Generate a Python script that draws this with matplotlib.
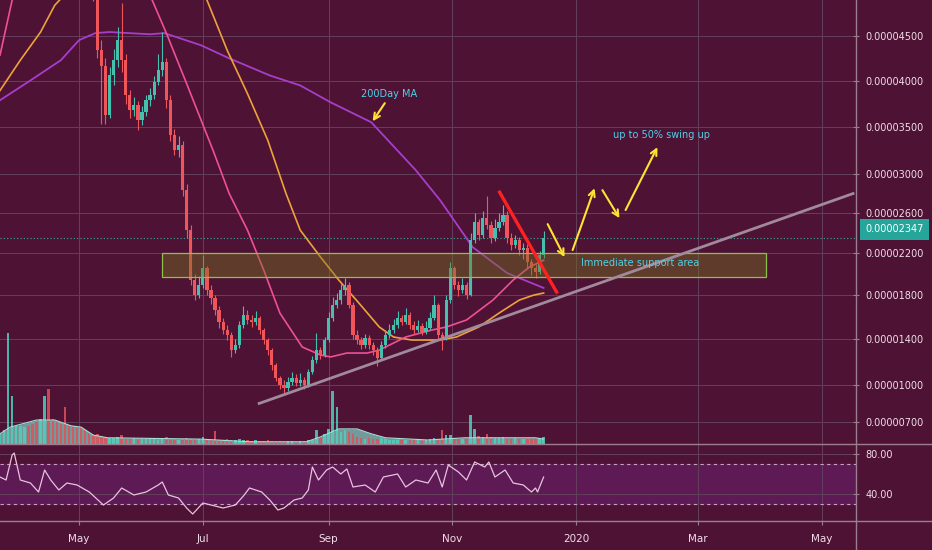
import numpy as np
import pandas as pd
import matplotlib
matplotlib.use('Agg')
import matplotlib.pyplot as plt
import matplotlib.dates as mdates
from matplotlib.lines import Line2D
from matplotlib.patches import Rectangle
from matplotlib.ticker import FixedLocator, FuncFormatter

plt.rcParams['font.family'] = ['DejaVu Sans']

# prices in units of 1e-8 (2-day candles starting 2019-03-23)
closes = [5300, 5350, 5400, 5450, 5500, 5600, 5650, 5550, 5500, 5450, 5600, 5700, 5650, 5550, 5500, 5450,
          5400, 5300, 5250, 5200, 5150, 5100, 5050, 5000,
          4340, 4170, 3625, 4060, 4229, 4454, 4229, 3840, 3680, 3734, 3571, 3660, 3788, 3840, 3985, 4118,
          4207, 3788, 3410, 3252, 3305, 2835, 2430, 1943, 1800, 1895, 2058, 1849, 1773, 1661, 1552, 1479,
          1434, 1300, 1343, 1525, 1615, 1570, 1552, 1588, 1479, 1389, 1300, 1170, 1059, 1000, 975, 1025,
          1059, 1017, 1042, 1000, 1110, 1213, 1300, 1257, 1389, 1588, 1707, 1754, 1849, 1895, 1707, 1434,
          1389, 1343, 1407, 1343, 1300, 1230, 1343, 1434, 1479, 1525, 1588, 1552, 1615, 1525, 1479, 1515,
          1461, 1497, 1588, 1707, 1434, 1407, 1754, 2058, 1895, 1849, 1895, 1800, 2331, 2510, 2380, 2550,
          2480, 2350, 2450, 2510, 2580, 2350, 2282, 2331, 2233, 2253, 2115, 2058, 2020, 2183, 2347]
highs = [5400, 5450, 5500, 5550, 5600, 5700, 5750, 5700, 5600, 5550, 5700, 5800, 5750, 5700, 5600, 5550,
         5500, 5450, 5350, 5300, 5250, 5200, 5150, 5100,
         5100, 4450, 4250, 4150, 4350, 4600, 4880, 4300, 3900, 3820, 3780, 3720, 3850, 3920, 4050, 4300,
         4545, 4250, 3850, 3480, 3400, 3350, 2900, 2480, 2000, 1980, 2180, 2080, 1900, 1800, 1700, 1590,
         1520, 1460, 1400, 1560, 1700, 1660, 1620, 1650, 1610, 1500, 1410, 1320, 1190, 1080, 1040, 1070,
         1110, 1090, 1100, 1070, 1140, 1250, 1450, 1330, 1420, 1640, 1780, 1820, 1910, 1960, 1920, 1740,
         1480, 1420, 1440, 1430, 1370, 1330, 1380, 1480, 1530, 1580, 1650, 1620, 1680, 1640, 1560, 1570,
         1540, 1560, 1640, 1800, 1730, 1460, 1800, 2120, 2080, 1930, 1960, 1920, 2400, 2600, 2540, 2620,
         2780, 2520, 2540, 2600, 2680, 2620, 2400, 2380, 2360, 2300, 2290, 2150, 2100, 2220, 2420]
lows = [5200, 5250, 5300, 5350, 5400, 5450, 5500, 5450, 5400, 5350, 5400, 5550, 5550, 5450, 5400, 5350,
        5300, 5200, 5150, 5100, 5050, 5000, 4950, 4900,
        4250, 3530, 3530, 3600, 3950, 4150, 4100, 3750, 3600, 3620, 3470, 3520, 3620, 3720, 3800, 3950,
        4050, 3700, 3350, 3200, 3180, 2780, 2350, 1900, 1750, 1770, 1870, 1800, 1720, 1620, 1500, 1440,
        1390, 1240, 1270, 1320, 1500, 1530, 1510, 1520, 1440, 1350, 1260, 1130, 1030, 970, 930, 950,
        1000, 990, 995, 965, 985, 1090, 1190, 1220, 1240, 1370, 1560, 1680, 1720, 1800, 1680, 1400,
        1350, 1310, 1320, 1310, 1260, 1160, 1210, 1320, 1410, 1450, 1500, 1520, 1530, 1490, 1440, 1460,
        1430, 1440, 1480, 1570, 1400, 1300, 1390, 1730, 1860, 1790, 1820, 1760, 1790, 2300, 2330, 2350,
        2440, 2300, 2320, 2420, 2480, 2300, 2230, 2250, 2180, 2150, 2050, 1990, 1960, 2000, 2160]
volumes = [23, 32, 249, 108, 41, 41, 38, 41, 45, 50, 56, 108, 124, 56, 50, 45, 84, 41, 41, 38, 36, 32, 25, 20,
           23, 18, 16, 14, 13, 15, 20, 12, 11, 13, 10, 12, 11, 14, 12, 10, 13, 16, 12, 11, 10, 12, 14, 11,
           10, 12, 15, 11, 10, 29,
           10, 9, 11, 8, 10, 12, 9, 8, 7, 8, 6, 7, 8, 6, 5, 6, 5, 6, 7, 5, 6, 7, 8, 10,
           32, 14, 23, 34, 120, 84, 27, 32, 27, 23,
           16, 14, 12, 13, 11, 12, 14, 11, 10, 9, 10, 12, 9, 8, 10, 9, 8, 9, 11, 13, 10, 32,
           20, 20, 14, 12, 11, 12, 66, 34, 18, 16, 23, 15, 13, 14, 16, 14, 12, 13, 11, 12, 13, 11, 12, 14, 16]

vol_ma_days = [0, 5, 18, 27, 35, 40, 46, 53, 99, 123, 151, 158, 167, 176, 183, 190, 211, 229, 264, 268]
vol_ma = [23, 38, 54, 54, 41, 38, 20, 14, 11, 5, 5, 16, 34, 34, 23, 14, 9, 14, 14, 11]

ma200_days = [0, 15, 30, 39, 47, 54, 74, 81, 99, 113, 133, 148, 163, 183, 205, 217, 233, 250, 268]
ma200 = [3788, 4005, 4229, 4454, 4533, 4545, 4520, 4533, 4397, 4250, 4060, 3950, 3765, 3550, 3041, 2731,
         2262, 2010, 1868]
ma50_days = [0, 6, 20, 40, 60, 75, 82, 92, 105, 113, 122, 130, 138, 149, 158, 163, 171, 181, 187, 200,
             213, 220, 230, 243, 253, 261, 268]
ma50 = [4285, 4910, 5400, 5600, 5400, 4910, 4533, 3970, 3252, 2800, 2430, 2039, 1633, 1327, 1257, 1240,
        1274, 1274, 1300, 1416, 1479, 1506, 1570, 1754, 1943, 2068, 2134]
ma100_days = [0, 10, 20, 27, 45, 70, 90, 102, 112, 122, 132, 141, 148, 158, 167, 177, 187, 194, 203, 217,
              225, 236, 246, 256, 263, 268]
ma100 = [3894, 4229, 4545, 4850, 5300, 5400, 5200, 4910, 4340, 3860, 3357, 2800, 2430, 2165, 1943, 1725,
         1506, 1416, 1389, 1389, 1416, 1506, 1633, 1754, 1800, 1820]

rsi_days = [0, 3, 6, 7, 10, 15, 19, 22, 25, 29, 33, 38, 44, 51, 56, 60, 66, 72, 78, 80, 83, 88, 92, 95,
            100, 104, 110, 116, 120, 123, 129, 133, 137, 140, 145, 149, 152, 154, 157, 161, 164, 168, 171,
            174, 180, 185, 189, 196, 200, 205, 211, 215, 218, 221, 226, 230, 234, 239, 241, 244, 249, 253,
            258, 262, 264, 265, 268]
rsi = [57, 54, 79, 81, 54, 51, 42, 64, 54, 44, 51, 49, 42, 29, 36, 46, 39, 42, 49, 52, 39, 36, 26, 20,
       31, 29, 26, 29, 38, 46, 42, 34, 24, 26, 34, 36, 44, 67, 54, 64, 67, 60, 65, 47, 49, 42, 57, 60,
       47, 54, 51, 64, 47, 69, 62, 54, 72, 67, 72, 57, 64, 51, 49, 42, 46, 42, 57]

price_ticks = [4500, 4000, 3500, 3000, 2600, 2200, 1800, 1400, 1000, 700]
last_price = 2347
month_ticks = ['2019-05-01', '2019-07-01', '2019-09-01', '2019-11-01', '2020-01-01', '2020-03-01', '2020-05-01']
month_labels = ['May', 'Jul', 'Sep', 'Nov', '2020', 'Mar', 'May']

BG = '#4e1334'
BAND = '#5d1a55'
GRID = '#64405c'
SEP = '#9c7d90'
TXT = '#f2dde9'
UP = '#45bfae'
DOWN = '#f0555a'
CYAN = '#4dd2e6'
YEL = '#ffe234'

start = pd.Timestamp('2019-03-23')


def dnum(d):
    return mdates.date2num(start + pd.to_timedelta(np.asarray(d, dtype=float), unit='D'))


def px(v):
    return np.asarray(v, dtype=float) * 1e-8


def fwd(v):
    return np.power(np.clip(np.asarray(v, dtype=float), 1e-12, None) * 1e8, 0.8)


def inv(u):
    return np.power(np.clip(np.asarray(u, dtype=float), 1e-12, None), 1.25) / 1e8


c = px(closes)
o = np.concatenate([[c[0]], c[:-1]])
h = px(highs)
l = px(lows)
t = mdates.date2num(pd.date_range('2019-03-23', periods=len(closes), freq='2D'))
up = c >= o

fig = plt.figure(figsize=(9.32, 5.5), dpi=100, facecolor=BG)
ax = fig.add_axes([0, 106 / 550, 856 / 932, 444 / 550], facecolor=BG)
axr = fig.add_axes([0, 29 / 550, 856 / 932, 77 / 550], facecolor=BG, sharex=ax)
axv = ax.twinx()  # volume overlay (twinx moves ax ticks left, so set ticks after this)

ax.set_yscale('function', functions=(fwd, inv))
ax.set_ylim(px(535), px(4910))
ax.set_xlim(dnum(0), dnum(422))

mt = mdates.date2num(pd.to_datetime(month_ticks))
ax.set_xticks(mt)
ax.yaxis.set_major_locator(FixedLocator(px(price_ticks)))
ax.yaxis.set_major_formatter(FuncFormatter(lambda v, p: f'{v:.8f}'))
ax.yaxis.set_minor_locator(FixedLocator([]))
ax.grid(True, color=GRID, lw=0.7)
ax.set_axisbelow(True)
ax.yaxis.tick_right()
ax.yaxis.set_label_position('right')
ax.tick_params(axis='y', colors=SEP, labelcolor=TXT, labelsize=7, direction='inout', length=4, pad=5)
ax.tick_params(axis='x', length=0, labelbottom=False)
for s in ax.spines.values():
    s.set_visible(False)

# moving averages
ax.plot(dnum(ma200_days), px(ma200), color='#a83dcc', lw=1.3, zorder=3)
ax.plot(dnum(ma100_days), px(ma100), color='#eea23a', lw=1.2, zorder=3)
ax.plot(dnum(ma50_days), px(ma50), color='#f04f96', lw=1.2, zorder=3)

# candles
cols = np.where(up, UP, DOWN)
ax.vlines(t, l, h, colors=cols, lw=0.8, zorder=4)
ax.bar(t, np.maximum(np.abs(c - o), px(6)), bottom=np.minimum(o, c), width=1.6, color=cols, zorder=4)

# current price line
ax.axhline(px(last_price), color='#3aa89a', lw=0.8, ls=(0, (1, 2)), zorder=2)
ax.annotate(f'{px(last_price):.8f}', xy=(1, px(last_price)), xycoords=('axes fraction', 'data'),
            xytext=(6.5, 6.5), textcoords='offset points', va='center', ha='left', color='white',
            fontsize=7, annotation_clip=False,
            bbox=dict(boxstyle='square,pad=0.55', fc='#26a69a', ec='none'))

# support zone
x0, x1 = dnum(79.8), dnum(377.8)
ax.add_patch(Rectangle((x0, px(1972)), x1 - x0, px(2205 - 1972), fc=(0.47, 0.45, 0.12, 0.42),
                       ec='#8bc34a', lw=0.9, zorder=5))
ax.text(dnum(315.8), px(2105), 'Immediate support area', color=CYAN, fontsize=7, ha='center', va='center', zorder=7)

# trend lines
ax.plot(dnum([127.1, 421.2]), px([845, 2805]), color='#a08a9c', lw=2, zorder=6, solid_capstyle='butt')
ax.plot(dnum([246.3, 274.4]), px([2814, 1829]), color='#ff2020', lw=2.4, zorder=6)

# projected path arrows
arrows = [((270.0, 2490), (278.3, 2164)), ((282.3, 2233), (293.1, 2855)),
          ((297.0, 2835), (305.4, 2550)), ((308.4, 2632), (324.1, 3284)),
          ((189.7, 3756), (183.7, 3560))]
for (da, pa), (db, pb) in arrows:
    ax.annotate('', xy=(dnum(db), px(pb)), xytext=(dnum(da), px(pa)),
                arrowprops=dict(arrowstyle='->', color=YEL, lw=1.5, mutation_scale=11,
                                shrinkA=0, shrinkB=0), zorder=7)
ax.text(dnum(326), px(3411), 'up to 50% swing up', color=CYAN, fontsize=7, ha='center', va='center')
ax.text(dnum(192), px(3852), '200Day MA', color=CYAN, fontsize=7, ha='center', va='center')

# volume
axv.set_ylim(0, 1000)
axv.axis('off')
axv.fill_between(dnum(vol_ma_days), 0, vol_ma, color='#86d3c8', alpha=0.7, lw=0)
axv.plot(dnum(vol_ma_days), vol_ma, color='#a5e0d8', lw=0.8)
axv.bar(t, volumes, width=1.2, color=np.where(up, '#4fd0bd', '#e0505a'), alpha=0.85)

# RSI pane
axr.set_ylim(13, 90)
axr.axhspan(30, 70, color=BAND, zorder=0)
axr.axhline(70, color='#c9a3bd', lw=0.8, ls=(0, (3, 3)))
axr.axhline(30, color='#c9a3bd', lw=0.8, ls=(0, (3, 3)))
axr.plot(dnum(rsi_days), rsi, color='#e8c2de', lw=0.9)
axr.set_yticks([40, 80])
axr.yaxis.set_major_formatter(FuncFormatter(lambda v, p: f'{v:.2f}'))
axr.yaxis.tick_right()
axr.grid(True, color=GRID, lw=0.7)
axr.set_axisbelow(True)
axr.set_xticks(mt)
axr.set_xticklabels(month_labels)
axr.tick_params(axis='y', colors=SEP, labelcolor=TXT, labelsize=7, direction='inout', length=4, pad=5)
axr.tick_params(axis='x', colors=SEP, labelcolor=TXT, labelsize=7.5, length=3, pad=6)
for s in axr.spines.values():
    s.set_visible(False)

# pane separators
fig.add_artist(Line2D([856 / 932, 856 / 932], [0, 1], color=SEP, lw=1))
fig.add_artist(Line2D([0, 1], [106 / 550, 106 / 550], color=SEP, lw=1))
fig.add_artist(Line2D([0, 1], [29 / 550, 29 / 550], color=SEP, lw=1))

fig.savefig('out.png', dpi=100, facecolor=BG)
